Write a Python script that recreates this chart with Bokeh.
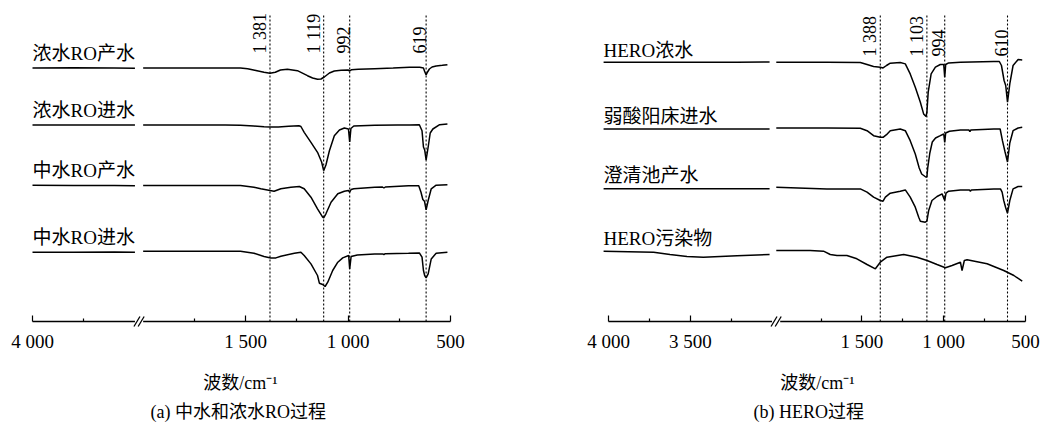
import math
from bokeh.plotting import figure
from bokeh.models import Range1d, FixedTicker, Title
from bokeh.layouts import row
from bokeh.embed import file_html
from bokeh.resources import INLINE
from bokeh.core.properties import value

FONT = "'Liberation Serif', 'Noto Sans CJK SC'"

# ---------------- panel (a) data ----------------
a_names = ["浓水RO产水", "浓水RO进水", "中水RO产水", "中水RO进水"]
a_peaks = [1381, 1119, 992, 619]
a_peak_labels = ["1 381", "1 119", "992", "619"]
a_major = [4000, 1500, 1000, 500]
a_minor = [3750, 1750, 1250, 750]
a_tick_labels = ["4 000", "1 500", "1 000", "500"]

a_left_w = [4000, 3800, 3600, 3500]
a1_left_t = [0, 0.3, 0, -0.3]
a2_left_t = [0, 0, 0, 0]
a3_left_t = [0.3, 0, 0, -0.3]
a4_left_t = [0, 0, 0.3, 0]

a1_w = [2000, 1800, 1600, 1525, 1490, 1450, 1410, 1381, 1355, 1330, 1296, 1247, 1198, 1173, 1149, 1132,
        1116, 1091, 1067, 1034, 1000, 992, 984, 950, 870, 780, 700, 650, 632, 626, 619, 612, 603, 590,
        570, 540, 515]
a1_t = [0, 0, 0, 0, -0.7, -2.5, -4.3, -5.3, -4.3, -2, -1.3, -2.7, -7.7, -10, -11.3, -11,
        -9, -5, -3, -2.3, -2, -3, -1.8, -1.3, -0.7, 0, 0.7, 0.7, 0, -3.5, -7, -4, -1, 1,
        2, 2.7, 3.3]

a2_w = [2000, 1800, 1600, 1525, 1460, 1410, 1381, 1340, 1290, 1240, 1230, 1214, 1181, 1149, 1129, 1119,
        1108, 1091, 1067, 1042, 1018, 998, 992, 986, 972, 870, 760, 700, 652, 639, 632, 626, 619, 609,
        599, 586, 553, 515]
a2_t = [0, 0, 0, -0.3, -1, -1.7, -2, -2, -1.3, -0.7, -1.5, -7.3, -17.3, -27.3, -37, -45.7,
        -40, -25.7, -10.7, -5, -3, -4, -17, -3.5, -1, -0.3, 0, 0, 0.3, -5.7, -22, -25, -35, -22,
        -8, -4, 0.3, 1]

a3_w = [2000, 1800, 1600, 1525, 1459, 1426, 1381, 1361, 1328, 1279, 1238, 1214, 1181, 1149, 1124, 1119,
        1108, 1083, 1050, 1018, 998, 992, 985, 972, 870, 832, 825, 818, 705, 655, 644, 635, 627, 619,
        609, 594, 570, 515]
a3_t = [0, 0, 0, 0, -1.7, -3.3, -5, -5.7, -3.3, -1.7, -1, -3.3, -11.7, -23.3, -31.7, -32.3,
        -28.3, -16.7, -8.3, -5.7, -5, -6.7, -4, -3.3, -1.7, -1.5, -2.5, -1.5, -0.3, -0.3, -6.7, -14,
        -15.7, -24.3, -15, -3.3, 0.3, 0.7]

a4_w = [2000, 1800, 1600, 1525, 1459, 1410, 1377, 1352, 1328, 1262, 1230, 1214, 1181, 1149, 1140, 1124,
        1112, 1099, 1075, 1050, 1026, 997, 992, 985, 955, 870, 832, 825, 818, 705, 652, 639, 632, 626,
        619, 609, 594, 570, 515]
a4_t = [1, 1, 1, 1, -1, -4.3, -5.7, -5.7, -4, -1, 0, -3.3, -11.7, -23.3, -31, -32.3,
        -34.3, -30, -18.3, -10, -5.7, -3.3, -16.7, -4.3, -2.7, -1.7, -1.7, -2.3, -1.5, -1, -0.7, -5,
        -18.3, -23.3, -25.7, -21.7, -6.7, -1, 0]

a_offsets = [253.5, 196.5, 136, 69.3]

# ---------------- panel (b) data ----------------
b_names = ["HERO浓水", "弱酸阳床进水", "澄清池产水", "HERO污染物"]
b_peaks = [1388, 1103, 994, 610]
b_peak_labels = ["1 388", "1 103", "994", "610"]
b_major = [4000, 3500, 1500, 1000, 500]
b_minor = [3750, 3250, 1750, 1250, 750]
b_tick_labels = ["4 000", "3 500", "1 500", "1 000", "500"]

b_left_w = [4030, 3724, 3624, 3520, 3420, 3214, 3015]
b1_left_t = [0, 0, 0, 0, 0, 0, 0.3]
b2_left_t = [-1, -1, -1, -1, -1, -1, -1]
b3_left_t = [-1.5, -1.5, -1.5, -1.5, -1.5, -1.5, -1.5]
b4_left_t = [-0.7, -1.7, -4, -6, -6.7, -5.3, -4]

b1_w = [2024, 1714, 1510, 1469, 1429, 1388, 1371, 1350, 1327, 1266, 1235, 1205, 1174, 1143, 1123, 1108,
        1103, 1095, 1077, 1051, 1021, 1000, 994, 988, 970, 898, 694, 660, 647, 631, 621, 610, 596, 576,
        545, 520]
b1_t = [0, 0, -0.3, -2.3, -4.3, -5, -5.7, -3.3, -1, -0.3, -1.7, -11.7, -25, -40, -51.7, -54.3,
        -50, -30, -11.7, -5, -2.3, -2.3, -15, -2.3, -0.7, 0, 0.7, 0.7, -3.3, -18.3, -23.3, -40, -21.7,
        -3.3, 2.7, 2.3]

b2_w = [2024, 1714, 1510, 1469, 1429, 1388, 1371, 1350, 1327, 1266, 1235, 1205, 1174, 1150, 1135, 1110,
        1103, 1098, 1085, 1070, 1050, 1021, 1000, 994, 988, 965, 898, 846, 840, 834, 694, 655, 641, 625,
        610, 596, 576, 545, 520]
b2_t = [0, 0, -0.3, -2.7, -7.7, -9.3, -9.3, -6.7, -2.7, -1, -2.7, -12.7, -26, -40, -46, -49,
        -49, -40, -25, -14, -10, -7.7, -6, -14.3, -5, -3.3, -2, -2, -3.5, -2, -1, -1, -12.7, -24,
        -34, -15, -2.7, 0, 0.7]

b3_w = [2024, 1714, 1510, 1469, 1429, 1388, 1371, 1357, 1327, 1266, 1235, 1205, 1174, 1153, 1143, 1113,
        1103, 1092, 1072, 1041, 1010, 994, 986, 970, 898, 843, 837, 831, 694, 653, 643, 633, 622, 610,
        596, 576, 545, 520]
b3_t = [0, -1.7, -1.7, -5, -10, -13.3, -14, -10, -6, -4, -2.7, -10, -20, -30, -34, -35,
        -34, -23.3, -13.3, -9.3, -6.7, -13.3, -6, -4, -2.7, -2.7, -4, -2.7, -1.7, -1.7, -5, -13.3,
        -20, -26, -13.3, -1.7, 0.7, 0.7]

b4_w = [2024, 1817, 1735, 1694, 1653, 1592, 1531, 1469, 1418, 1388, 1347, 1245, 1164, 1102, 1041, 990,
        949, 898, 888, 874, 857, 735, 633, 571, 520]
b4_t = [0, 0, -0.7, -4, -5, -5, -8.3, -14, -18.3, -11.7, -6.7, -4, -6.7, -10, -14, -17.3,
        -15, -11.7, -20, -10, -9.3, -13.3, -20, -25, -30.7]

b_offsets = [259.3, 193.5, 134.3, 71]

FRAME_H = 321


def build_panel(names, offsets, left_w, left_ts, right_ws, right_ts, peaks, peak_labels,
                major, minor, tick_labels, left_end, right_start, gap,
                px4000, px500, frame_l, frame_r, fig_left, fig_w,
                caption, cap_offset, name_dx, name_dy, peak_text_y):
    span = (4000 - left_end) + gap + (right_start - 500)
    s = (px500 - px4000) / span
    mid = (left_end + right_start) / 2

    def u(w):
        if w > mid:
            return 4000 - w
        return (4000 - left_end) + gap + (right_start - w)

    x0 = -(px4000 - frame_l) / s
    x1 = u(500) + (frame_r - px500) / s
    p = figure(frame_width=frame_r - frame_l, frame_height=FRAME_H,
               x_range=Range1d(x0, x1), y_range=Range1d(0, FRAME_H),
               min_border_left=frame_l - fig_left,
               min_border_right=fig_w - (frame_r - fig_left),
               min_border_top=0, min_border_bottom=0,
               output_backend="svg", toolbar_location=None,
               y_axis_location=None, x_axis_location="below")
    p.xgrid.visible = False
    p.ygrid.visible = False
    p.outline_line_color = None
    p.background_fill_color = "white"
    p.border_fill_color = "white"

    # spectra
    for off, lt, rw, rt in zip(offsets, left_ts, right_ws, right_ts):
        p.line([u(w) for w in left_w], [off + t for t in lt], line_color="black", line_width=1.5)
        p.line([u(w) for w in rw], [off + t for t in rt], line_color="black", line_width=1.5)

    # series labels
    p.text(x=[u(4000)] * len(names), y=offsets, text=names, x_offset=name_dx, y_offset=name_dy,
           text_align="left", text_baseline="middle", text_font=value(FONT),
           text_font_size="19px", text_color="black")

    # peak marker lines and labels
    px = [u(w) for w in peaks]
    p.segment(x0=px, y0=[0] * len(px), x1=px, y1=[FRAME_H - 15] * len(px),
              line_color="black", line_width=1.1, line_dash="2 2")
    p.text(x=px, y=[peak_text_y] * len(px), text=peak_labels, angle=math.pi / 2,
           text_align="left", text_baseline="bottom", text_font=value(FONT),
           text_font_size="18px", text_color="black")

    # broken axis baseline with break marks
    p.segment(x0=[u(4000), u(right_start)], y0=[0, 0], x1=[u(left_end), u(500)], y1=[0, 0],
              line_color="black", line_width=1.3, level="overlay")
    c1 = u(left_end) + 2 / s
    c2 = u(right_start) - 2 / s
    p.segment(x0=[c1 - 3 / s, c2 - 3 / s], y0=[-5, -5], x1=[c1 + 3 / s, c2 + 3 / s], y1=[5, 5],
              line_color="black", line_width=1.3, level="overlay")

    ax = p.xaxis[0]
    ax.ticker = FixedTicker(ticks=[u(t) for t in major], minor_ticks=[u(t) for t in minor])
    ax.major_label_overrides = {u(t): lab for t, lab in zip(major, tick_labels)}
    ax.axis_line_color = None
    ax.major_tick_in = 6
    ax.major_tick_out = 0
    ax.minor_tick_in = 3
    ax.minor_tick_out = 0
    ax.major_tick_line_color = "black"
    ax.minor_tick_line_color = "black"
    ax.major_tick_line_width = 1.2
    ax.minor_tick_line_width = 1.2
    ax.major_label_text_font = "Liberation Serif"
    ax.major_label_text_font_size = "19px"
    ax.major_label_text_color = "black"
    ax.major_label_standoff = 9
    ax.axis_label = "波数/cm⁻¹"
    ax.axis_label_text_font = FONT
    ax.axis_label_text_font_size = "18px"
    ax.axis_label_text_font_style = "normal"
    ax.axis_label_text_color = "black"
    ax.axis_label_standoff = 18

    p.add_layout(Title(text=caption, align="left", offset=cap_offset, text_font=FONT,
                       text_font_size="18px", text_font_style="normal", text_color="black",
                       standoff=9), "below")
    return p


pa = build_panel(a_names, a_offsets, a_left_w, [a1_left_t, a2_left_t, a3_left_t, a4_left_t],
                 [a1_w, a2_w, a3_w, a4_w], [a1_t, a2_t, a3_t, a4_t],
                 a_peaks, a_peak_labels, a_major, a_minor, a_tick_labels,
                 3500, 2000, 40, 32, 450, 12, 468, 0, 521,
                 "(a) 中水和浓水RO过程", 138, 0, -15, 268)

pb = build_panel(b_names, b_offsets, b_left_w, [b1_left_t, b2_left_t, b3_left_t, b4_left_t],
                 [b1_w, b2_w, b3_w, b4_w], [b1_t, b2_t, b3_t, b4_t],
                 b_peaks, b_peak_labels, b_major, b_minor, b_tick_labels,
                 3000, 2000, 50, 608, 1025, 598, 1036, 521, 521,
                 "(b) HERO过程", 155, -5, -12, 265)

layout = row(pa, pb)
open("out.html", "w").write(file_html(layout, INLINE))
